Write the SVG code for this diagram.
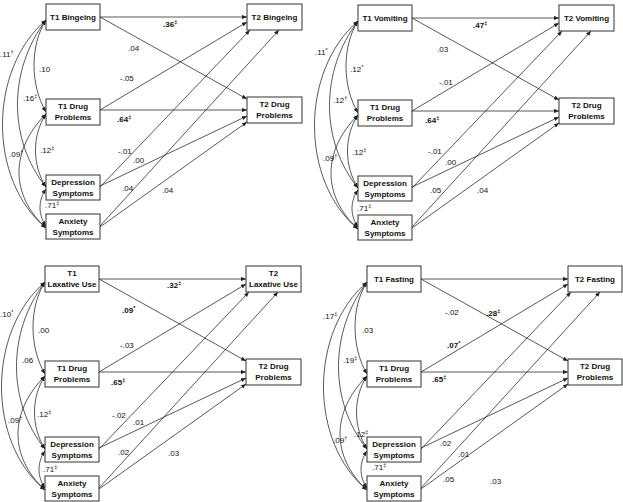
<svg xmlns="http://www.w3.org/2000/svg" width="623" height="502" viewBox="0 0 623 502">
<style>
.node rect{fill:#fff;stroke:#333;stroke-width:1}
.node text{font-family:"Liberation Sans",Arial,sans-serif;font-size:8px;font-weight:bold;fill:#111;text-anchor:middle}
.conn path{fill:none;stroke:#222;stroke-width:0.75}
.conn .s{marker-end:url(#ah)}
.conn .c{marker-start:url(#ah);marker-end:url(#ah)}
.lb{font-family:"Liberation Sans",Arial,sans-serif;font-size:8px;fill:#111}
.lb.b{font-weight:bold}
.sp{font-size:5.5px}
</style>
<defs>
<marker id="ah" viewBox="0 0 6 5" refX="6" refY="2.5" markerWidth="5" markerHeight="4.2" orient="auto-start-reverse" markerUnits="userSpaceOnUse"><path d="M0,0 L6,2.5 L0,5 z" fill="#222"/></marker>
</defs>
<rect width="623" height="502" fill="#fff"/>

<!-- Top-left panel -->
<g id="panel-bingeing">
<g id="tl-connectors" class="conn">
<path class="s" d="M100,17 L247,17"/>
<path class="s" d="M100,17 L247,99"/>
<path class="s" d="M100,110 L247,22"/>
<path class="s" d="M100,110 L247,110"/>
<path class="s" d="M100,187 L250,30"/>
<path class="s" d="M100,186 L247,116"/>
<path class="s" d="M100,226 L279,30"/>
<path class="s" d="M100,227 L247,122"/>
<path class="c" d="M46,20 C-12,70 -12,180 46,228"/>
<path class="c" d="M46,20 C8,70 8,140 46,187"/>
<path class="c" d="M46,20 C30,45 30,85 46,112"/>
<path class="c" d="M46,114 C10,150 10,195 46,228"/>
<path class="c" d="M46,114 C32,135 32,165 46,187"/>
<path class="c" d="M46,189 C38,200 38,215 46,226"/>
</g>
<g id="tl-t1-bingeing" class="node"><rect x="46" y="4" width="54" height="26"/><text x="73" y="20">T1 Bingeing</text></g>
<g id="tl-t1-drug" class="node"><rect x="46" y="99" width="54" height="26"/><text x="73" y="109">T1 Drug</text><text x="73" y="120">Problems</text></g>
<g id="tl-depression" class="node"><rect x="46" y="175" width="54" height="25"/><text x="73" y="185">Depression</text><text x="73" y="196">Symptoms</text></g>
<g id="tl-anxiety" class="node"><rect x="46" y="214" width="54" height="25"/><text x="73" y="224">Anxiety</text><text x="73" y="235">Symptoms</text></g>
<g id="tl-t2-bingeing" class="node"><rect x="247" y="4" width="55" height="26"/><text x="274.5" y="20">T2 Bingeing</text></g>
<g id="tl-t2-drug" class="node"><rect x="247" y="97" width="55" height="26"/><text x="274.5" y="107">T2 Drug</text><text x="274.5" y="118">Problems</text></g>
<g id="tl-labels">
<text class="lb b" x="163" y="27">.36<tspan class="sp" dy="-3">‡</tspan></text>
<text class="lb" x="128" y="51">.04</text>
<text class="lb" x="120" y="81">-.05</text>
<text class="lb b" x="117" y="122">.64<tspan class="sp" dy="-3">‡</tspan></text>
<text class="lb" x="118" y="154">-.01</text>
<text class="lb" x="133" y="163">.00</text>
<text class="lb" x="122" y="191">.04</text>
<text class="lb" x="162" y="193">.04</text>
<text class="lb" x="0" y="57">.11<tspan class="sp" dy="-3">†</tspan></text>
<text class="lb" x="23" y="101">.16<tspan class="sp" dy="-3">‡</tspan></text>
<text class="lb" x="39" y="72">.10</text>
<text class="lb" x="9" y="157">.09<tspan class="sp" dy="-3">†</tspan></text>
<text class="lb" x="40" y="153">.12<tspan class="sp" dy="-3">‡</tspan></text>
<text class="lb" x="45" y="208">.71<tspan class="sp" dy="-3">‡</tspan></text>
</g>
</g>

<!-- Top-right panel -->
<g id="panel-vomiting" transform="translate(312,1)">
<g id="tr-connectors" class="conn">
<path class="s" d="M100,17 L247,17"/>
<path class="s" d="M100,17 L247,99"/>
<path class="s" d="M100,110 L247,22"/>
<path class="s" d="M100,110 L247,110"/>
<path class="s" d="M100,187 L250,30"/>
<path class="s" d="M100,186 L247,116"/>
<path class="s" d="M100,226 L279,30"/>
<path class="s" d="M100,227 L247,122"/>
<path class="c" d="M46,20 C-12,70 -12,180 46,228"/>
<path class="c" d="M46,20 C8,70 8,140 46,187"/>
<path class="c" d="M46,20 C30,45 30,85 46,112"/>
<path class="c" d="M46,114 C10,150 10,195 46,228"/>
<path class="c" d="M46,114 C32,135 32,165 46,187"/>
<path class="c" d="M46,189 C38,200 38,215 46,226"/>
</g>
<g id="tr-t1-vomiting" class="node"><rect x="46" y="4" width="54" height="26"/><text x="73" y="20">T1 Vomiting</text></g>
<g id="tr-t1-drug" class="node"><rect x="46" y="99" width="54" height="26"/><text x="73" y="109">T1 Drug</text><text x="73" y="120">Problems</text></g>
<g id="tr-depression" class="node"><rect x="46" y="175" width="54" height="25"/><text x="73" y="185">Depression</text><text x="73" y="196">Symptoms</text></g>
<g id="tr-anxiety" class="node"><rect x="46" y="214" width="54" height="25"/><text x="73" y="224">Anxiety</text><text x="73" y="235">Symptoms</text></g>
<g id="tr-t2-vomiting" class="node"><rect x="247" y="4" width="55" height="26"/><text x="274.5" y="20">T2 Vomiting</text></g>
<g id="tr-t2-drug" class="node"><rect x="247" y="97" width="55" height="26"/><text x="274.5" y="107">T2 Drug</text><text x="274.5" y="118">Problems</text></g>
<g id="tr-labels">
<text class="lb b" x="161" y="27">.47<tspan class="sp" dy="-3">‡</tspan></text>
<text class="lb" x="125" y="51">.03</text>
<text class="lb" x="127" y="84">-.01</text>
<text class="lb b" x="113" y="122">.64<tspan class="sp" dy="-3">‡</tspan></text>
<text class="lb" x="116" y="153">-.01</text>
<text class="lb" x="133" y="164">.00</text>
<text class="lb" x="118" y="192">.05</text>
<text class="lb" x="165" y="192">.04</text>
<text class="lb" x="3" y="54">.11<tspan class="sp" dy="-3">*</tspan></text>
<text class="lb" x="21" y="102">.12<tspan class="sp" dy="-3">†</tspan></text>
<text class="lb" x="38" y="71">.12<tspan class="sp" dy="-3">*</tspan></text>
<text class="lb" x="11" y="160">.09<tspan class="sp" dy="-3">†</tspan></text>
<text class="lb" x="40" y="154">.12<tspan class="sp" dy="-3">‡</tspan></text>
<text class="lb" x="45" y="210">.71<tspan class="sp" dy="-3">‡</tspan></text>
</g>
</g>

<!-- Bottom-left panel -->
<g id="panel-laxative" transform="translate(-1,262)">
<g id="bl-connectors" class="conn">
<path class="s" d="M100,17 L247,17"/>
<path class="s" d="M100,17 L247,99"/>
<path class="s" d="M100,110 L247,22"/>
<path class="s" d="M100,110 L247,110"/>
<path class="s" d="M100,187 L250,30"/>
<path class="s" d="M100,186 L247,116"/>
<path class="s" d="M100,226 L279,30"/>
<path class="s" d="M100,227 L247,122"/>
<path class="c" d="M46,20 C-12,70 -12,180 46,228"/>
<path class="c" d="M46,20 C8,70 8,140 46,187"/>
<path class="c" d="M46,20 C30,45 30,85 46,112"/>
<path class="c" d="M46,114 C10,150 10,195 46,228"/>
<path class="c" d="M46,114 C32,135 32,165 46,187"/>
<path class="c" d="M46,189 C38,200 38,215 46,226"/>
</g>
<g id="bl-t1-laxative" class="node"><rect x="46" y="4" width="54" height="26"/><text x="73" y="14">T1</text><text x="73" y="25">Laxative Use</text></g>
<g id="bl-t1-drug" class="node"><rect x="46" y="99" width="54" height="26"/><text x="73" y="109">T1 Drug</text><text x="73" y="120">Problems</text></g>
<g id="bl-depression" class="node"><rect x="46" y="175" width="54" height="25"/><text x="73" y="185">Depression</text><text x="73" y="196">Symptoms</text></g>
<g id="bl-anxiety" class="node"><rect x="46" y="214" width="54" height="25"/><text x="73" y="224">Anxiety</text><text x="73" y="235">Symptoms</text></g>
<g id="bl-t2-laxative" class="node"><rect x="247" y="4" width="55" height="26"/><text x="274.5" y="14">T2</text><text x="274.5" y="25">Laxative Use</text></g>
<g id="bl-t2-drug" class="node"><rect x="247" y="97" width="55" height="26"/><text x="274.5" y="107">T2 Drug</text><text x="274.5" y="118">Problems</text></g>
<g id="bl-labels">
<text class="lb b" x="168" y="26">.32<tspan class="sp" dy="-3">‡</tspan></text>
<text class="lb b" x="123" y="51">.09<tspan class="sp" dy="-3">*</tspan></text>
<text class="lb" x="121" y="86">-.03</text>
<text class="lb b" x="112" y="123">.65<tspan class="sp" dy="-3">‡</tspan></text>
<text class="lb" x="113" y="156">-.02</text>
<text class="lb" x="134" y="163">.01</text>
<text class="lb" x="119" y="193">.02</text>
<text class="lb" x="169" y="194">.03</text>
<text class="lb" x="1" y="55">.10<tspan class="sp" dy="-3">*</tspan></text>
<text class="lb" x="23" y="101">.06</text>
<text class="lb" x="39" y="71">.00</text>
<text class="lb" x="9" y="161">.09<tspan class="sp" dy="-3">†</tspan></text>
<text class="lb" x="38" y="155">.12<tspan class="sp" dy="-3">‡</tspan></text>
<text class="lb" x="44" y="210">.71<tspan class="sp" dy="-3">‡</tspan></text>
</g>
</g>

<!-- Bottom-right panel -->
<g id="panel-fasting" transform="translate(321,262)">
<g id="br-connectors" class="conn">
<path class="s" d="M100,17 L247,17"/>
<path class="s" d="M100,17 L247,99"/>
<path class="s" d="M100,110 L247,22"/>
<path class="s" d="M100,110 L247,110"/>
<path class="s" d="M100,187 L250,30"/>
<path class="s" d="M100,186 L247,116"/>
<path class="s" d="M100,226 L279,30"/>
<path class="s" d="M100,227 L247,122"/>
<path class="c" d="M46,20 C-12,70 -12,180 46,228"/>
<path class="c" d="M46,20 C8,70 8,140 46,187"/>
<path class="c" d="M46,20 C30,45 30,85 46,112"/>
<path class="c" d="M46,114 C10,150 10,195 46,228"/>
<path class="c" d="M46,114 C32,135 32,165 46,187"/>
<path class="c" d="M46,189 C38,200 38,215 46,226"/>
</g>
<g id="br-t1-fasting" class="node"><rect x="46" y="4" width="54" height="26"/><text x="73" y="20">T1 Fasting</text></g>
<g id="br-t1-drug" class="node"><rect x="46" y="99" width="54" height="26"/><text x="73" y="109">T1 Drug</text><text x="73" y="120">Problems</text></g>
<g id="br-depression" class="node"><rect x="46" y="175" width="54" height="25"/><text x="73" y="185">Depression</text><text x="73" y="196">Symptoms</text></g>
<g id="br-anxiety" class="node"><rect x="46" y="214" width="54" height="25"/><text x="73" y="224">Anxiety</text><text x="73" y="235">Symptoms</text></g>
<g id="br-t2-fasting" class="node"><rect x="247" y="4" width="54" height="26"/><text x="274" y="20">T2 Fasting</text></g>
<g id="br-t2-drug" class="node"><rect x="247" y="97" width="54" height="26"/><text x="274" y="107">T2 Drug</text><text x="274" y="118">Problems</text></g>
<g id="br-labels">
<text class="lb b" x="165" y="54">.28<tspan class="sp" dy="-3">‡</tspan></text>
<text class="lb" x="124" y="53">-.02</text>
<text class="lb b" x="126" y="86">.07<tspan class="sp" dy="-3">*</tspan></text>
<text class="lb b" x="111" y="120">.65<tspan class="sp" dy="-3">‡</tspan></text>
<text class="lb" x="119" y="184">.02</text>
<text class="lb" x="137" y="195">.01</text>
<text class="lb" x="122" y="220">.05</text>
<text class="lb" x="169" y="222">.03</text>
<text class="lb" x="2" y="57">.17<tspan class="sp" dy="-3">‡</tspan></text>
<text class="lb" x="22" y="101">.19<tspan class="sp" dy="-3">‡</tspan></text>
<text class="lb" x="41" y="71">.03</text>
<text class="lb" x="12" y="181">.09<tspan class="sp" dy="-3">†</tspan></text>
<text class="lb" x="33" y="175">.12<tspan class="sp" dy="-3">‡</tspan></text>
<text class="lb" x="51" y="208">.71<tspan class="sp" dy="-3">‡</tspan></text>
</g>
</g>
</svg>
